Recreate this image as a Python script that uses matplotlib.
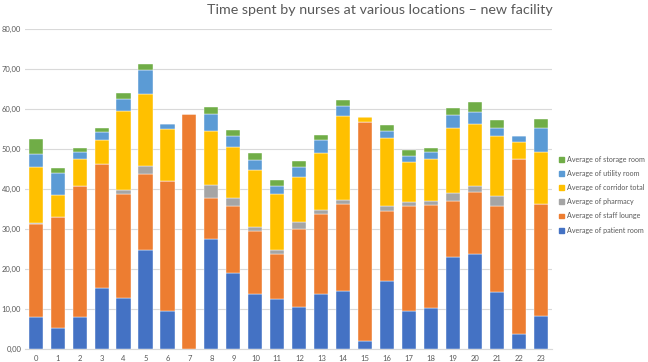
import numpy as np
import matplotlib.pyplot as plt
from matplotlib.patches import Patch
from matplotlib.ticker import FuncFormatter

plt.rcParams['font.family'] = ['Lato', 'DejaVu Sans']

# Hours of the day
hours = list(range(24))

# Stacked values (minutes)
patient_room = [8.0, 5.25, 8.0, 15.2, 12.75, 24.75, 9.6, 0.0, 27.5, 19.0, 13.8, 12.5,
                10.6, 13.8, 14.4, 2.1, 17.0, 9.4, 10.25, 22.9, 23.8, 14.3, 3.8, 8.3]
staff_lounge = [23.25, 27.75, 32.9, 31.0, 26.05, 19.05, 32.5, 58.8, 10.3, 16.8, 15.6, 11.25,
                19.5, 19.95, 21.9, 54.6, 17.5, 26.35, 25.85, 14.2, 15.6, 21.45, 43.8, 28.0]
pharmacy = [0.2, 0.0, 0.0, 0.0, 1.0, 2.0, 0.0, 0.0, 3.2, 1.95, 1.1, 1.0,
            1.6, 1.0, 1.0, 0.0, 1.2, 1.0, 0.9, 1.9, 1.4, 2.5, 0.0, 0.0]
corridor_total = [14.05, 5.6, 6.7, 6.1, 19.8, 18.1, 13.0, 0.0, 13.6, 12.85, 14.4, 14.15,
                  11.4, 14.35, 21.0, 1.3, 17.1, 10.05, 10.6, 16.2, 15.5, 15.05, 4.15, 13.0]
utility_room = [3.4, 5.4, 1.65, 2.0, 2.9, 6.0, 1.3, 0.0, 4.2, 2.7, 2.4, 1.85,
                2.5, 3.2, 2.5, 0.0, 1.7, 1.6, 1.7, 3.3, 2.95, 2.1, 1.65, 5.95]
storage_room = [3.7, 1.3, 1.0, 0.95, 1.6, 1.5, 0.0, 0.0, 1.7, 1.5, 1.7, 1.55,
                1.4, 1.2, 1.45, 0.0, 1.6, 1.4, 1.0, 1.7, 2.65, 2.0, 0.0, 2.35]

series = [
    ('Average of patient room', patient_room, '#4472C4'),
    ('Average of staff lounge', staff_lounge, '#ED7D31'),
    ('Average of pharmacy', pharmacy, '#A5A5A5'),
    ('Average of corridor total', corridor_total, '#FFC000'),
    ('Average of utility room', utility_room, '#5B9BD5'),
    ('Average of storage room', storage_room, '#70AD47'),
]

fig = plt.figure(figsize=(6.48, 3.62), dpi=100)
ax = fig.add_axes([0.038, 0.036, 0.814, 0.883])

bottom = np.zeros(len(hours))
for name, vals, col in series:
    ax.bar(hours, vals, bottom=bottom, width=0.64, color=col, label=name,
           edgecolor='white', linewidth=0.3, zorder=3)
    bottom += np.array(vals)

ax.set_xlim(-0.5, 23.5)
ax.set_ylim(0, 80)
ax.set_yticks(np.arange(0, 81, 10))
ax.yaxis.set_major_formatter(FuncFormatter(lambda v, p: f'{v:.2f}'.replace('.', ',')))
ax.set_xticks(hours)
ax.grid(axis='y', color='#D9D9D9', linewidth=0.8, zorder=0)
for s in ['top', 'right', 'left']:
    ax.spines[s].set_visible(False)
ax.spines['bottom'].set_color('#D9D9D9')
ax.tick_params(axis='both', length=0, labelsize=5.5, colors='#595959')
ax.tick_params(axis='y', pad=2.5)
ax.tick_params(axis='x', pad=4)

fig.text(0.586, 0.972, 'Time spent by nurses at various locations \u2013 new facility',
         ha='center', va='center', fontsize=10.3, color='#595959')

handles = [Patch(color=c, label=n) for n, _, c in series][::-1]
fig.legend(handles=handles, loc='upper left', bbox_to_anchor=(0.859, 0.578),
           frameon=False, fontsize=5.1, labelcolor='#595959', handlelength=0.7,
           handleheight=0.7, handletextpad=0.4, labelspacing=1.02, borderaxespad=0)

fig.savefig('out.png', dpi=100)
